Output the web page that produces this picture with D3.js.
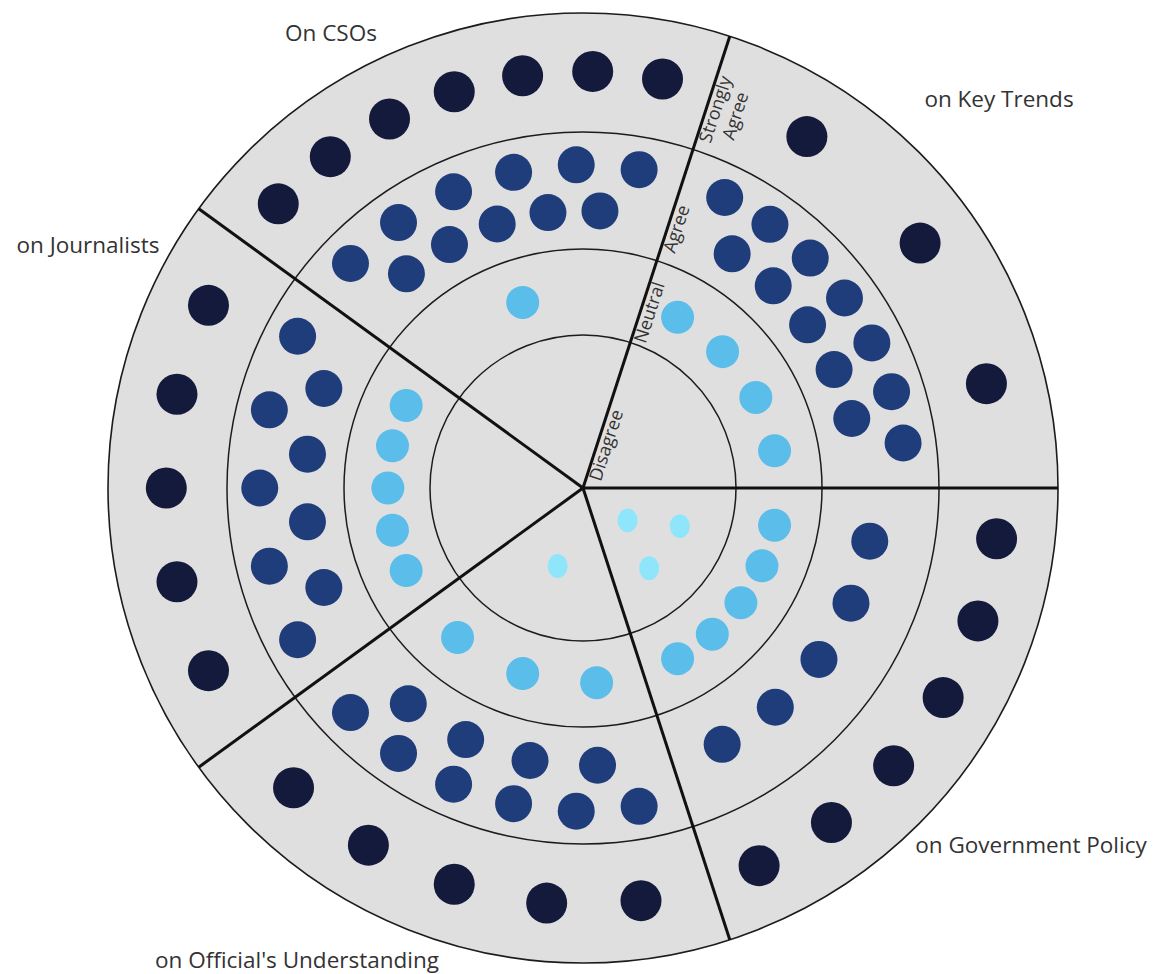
<!DOCTYPE html>
<html><head><meta charset="utf-8">
<script src="https://cdn.jsdelivr.net/npm/d3@7"></script>
<style>body{margin:0;background:#fff} svg{display:block}</style>
</head><body>
<svg id="chart" width="1157" height="974"></svg>
<script>
// ---------- data ----------
const sectors = ["on Key Trends", "on Government Policy", "on Official's Understanding", "on Journalists", "On CSOs"];
const levels = ["Disagree", "Neutral", "Agree", "Strongly Agree"];
const disagreeCounts = [0, 3, 1, 0, 0];
const neutralCounts = [4, 5, 3, 5, 1];
const agreeCounts = [12, 5, 10, 9, 11];
const stronglyAgreeCounts = [3, 6, 5, 5, 7];

// ---------- layout ----------
const W = 1157, H = 974, cx = 583, cy = 488;
const deg = Math.PI / 180;
const countsByLevel = {
  "Disagree": disagreeCounts, "Neutral": neutralCounts,
  "Agree": agreeCounts, "Strongly Agree": stronglyAgreeCounts
};
const angle = d3.scaleBand().domain(sectors).range([18 * deg, 378 * deg]);
const ringInner = d3.scaleOrdinal().domain(levels).range([0, 153, 239, 356]);
const ringOuter = d3.scaleOrdinal().domain(levels).range([153, 239, 356, 475]);
const color = d3.scaleOrdinal().domain(levels).range(["#8fe6fb", "#5bbde9", "#1f3d7a", "#141a3b"]);
const dotR = d3.scaleOrdinal().domain(levels).range([10, 16.5, 18.5, 20.5]);

// row placement inside each ring (fraction of ring depth, angular step & max span in degrees)
const rowSpec = {
  "Disagree": {cap: 2, single: {f: 0.536, step: 29, max: 29}, outer: {f: 0.68, step: 29, max: 29}, inner: {f: 0.36, step: 29, max: 29}},
  "Neutral": {cap: 99, single: {f: 0.49, step: 22, max: 50}},
  "Agree": {cap: 6, single: {f: 0.45, step: 13, max: 51}, outer: {f: 0.72, step: 14, max: 56}, inner: {f: 0.33, step: 14, max: 43}},
  "Strongly Agree": {cap: 99, single: {f: 0.51, step: 21.5, stepMany: 13, max: 58}}
};

const dots = [];
levels.forEach(level => {
  const radial = d3.scaleLinear().domain([0, 1]).range([ringInner(level), ringOuter(level)]);
  const spec = rowSpec[level];
  sectors.forEach((s, i) => {
    const n = countsByLevel[level][i];
    if (!n) return;
    const mid = angle(s) + angle.bandwidth() / 2;
    const rows = [];
    if (n <= spec.cap) rows.push([spec.single, n]);
    else {
      const inner = Math.floor((n - 1) / 2);
      rows.push([spec.outer, n - inner]);
      rows.push([spec.inner, inner]);
    }
    rows.forEach(([row, k]) => {
      const step = (row.stepMany && k > 3) ? row.stepMany : row.step;
      const span = Math.min(row.max, (k - 1) * step) * deg;
      for (let j = 0; j < k; j++) {
        const a = k === 1 ? mid : mid - span / 2 + span * j / (k - 1);
        const [x, y] = d3.pointRadial(a, radial(row.f));
        dots.push({level, x, y});
      }
    });
  });
});

// ---------- draw ----------
const svg = d3.select("#chart");
svg.append("rect").attr("width", W).attr("height", H).attr("fill", "#fff");
const g = svg.append("g").attr("transform", `translate(${cx},${cy})`);

g.append("circle").attr("r", ringOuter("Strongly Agree"))
  .attr("fill", "#e0dfdf").attr("stroke", "#1c1c1c").attr("stroke-width", 1.6);

g.selectAll("circle.ring").data(levels.slice(0, 3)).join("circle")
  .attr("class", "ring").attr("r", d => ringOuter(d))
  .attr("fill", "none").attr("stroke", "#1c1c1c").attr("stroke-width", 1.5);

g.selectAll("line.sector").data(sectors).join("line")
  .attr("class", "sector")
  .attr("x1", 0).attr("y1", 0)
  .attr("x2", d => d3.pointRadial(angle(d), ringOuter("Strongly Agree"))[0])
  .attr("y2", d => d3.pointRadial(angle(d), ringOuter("Strongly Agree"))[1])
  .attr("stroke", "#111").attr("stroke-width", 3);

g.selectAll("ellipse.dot").data(dots).join("ellipse")
  .attr("class", "dot")
  .attr("cx", d => d.x).attr("cy", d => d.y)
  .attr("rx", d => dotR(d.level))
  .attr("ry", d => d.level === "Disagree" ? dotR(d.level) * 1.2 : dotR(d.level))
  .attr("fill", d => color(d.level));

// ring labels along the first sector boundary
const a0 = angle(sectors[0]);
const rot = a0 / deg - 90;
const ringFont = 18;
const ringLabelPos = {"Disagree": 11, "Neutral": 156, "Agree": 251};
Object.entries(ringLabelPos).forEach(([lab, r]) => {
  const [x, y] = d3.pointRadial(a0, r);
  g.append("text").attr("transform", `translate(${x},${y}) rotate(${rot})`)
    .attr("dy", 15).attr("font-family", "Open Sans, sans-serif").attr("font-size", ringFont)
    .attr("fill", "#333").text(lab);
});
{
  const [x, y] = d3.pointRadial(a0, 401);
  const t = g.append("text").attr("transform", `translate(${x},${y}) rotate(${rot})`)
    .attr("text-anchor", "middle").attr("font-family", "Open Sans, sans-serif")
    .attr("font-size", ringFont).attr("fill", "#333");
  t.append("tspan").attr("x", 0).attr("dy", 15).text("Strongly");
  t.append("tspan").attr("x", 0).attr("dy", 21).text("Agree");
}

// sector titles (offsets from centre)
const titlePos = [[416, -381], [448, 365], [-286, 480], [-495, -235], [-252, -447]];
svg.append("g").selectAll("text").data(sectors).join("text")
  .attr("x", (d, i) => cx + titlePos[i][0]).attr("y", (d, i) => cy + titlePos[i][1])
  .attr("text-anchor", "middle").attr("font-family", "Open Sans, sans-serif")
  .attr("font-size", 22.5).attr("fill", "#333").text(d => d);
</script>
</body></html>
